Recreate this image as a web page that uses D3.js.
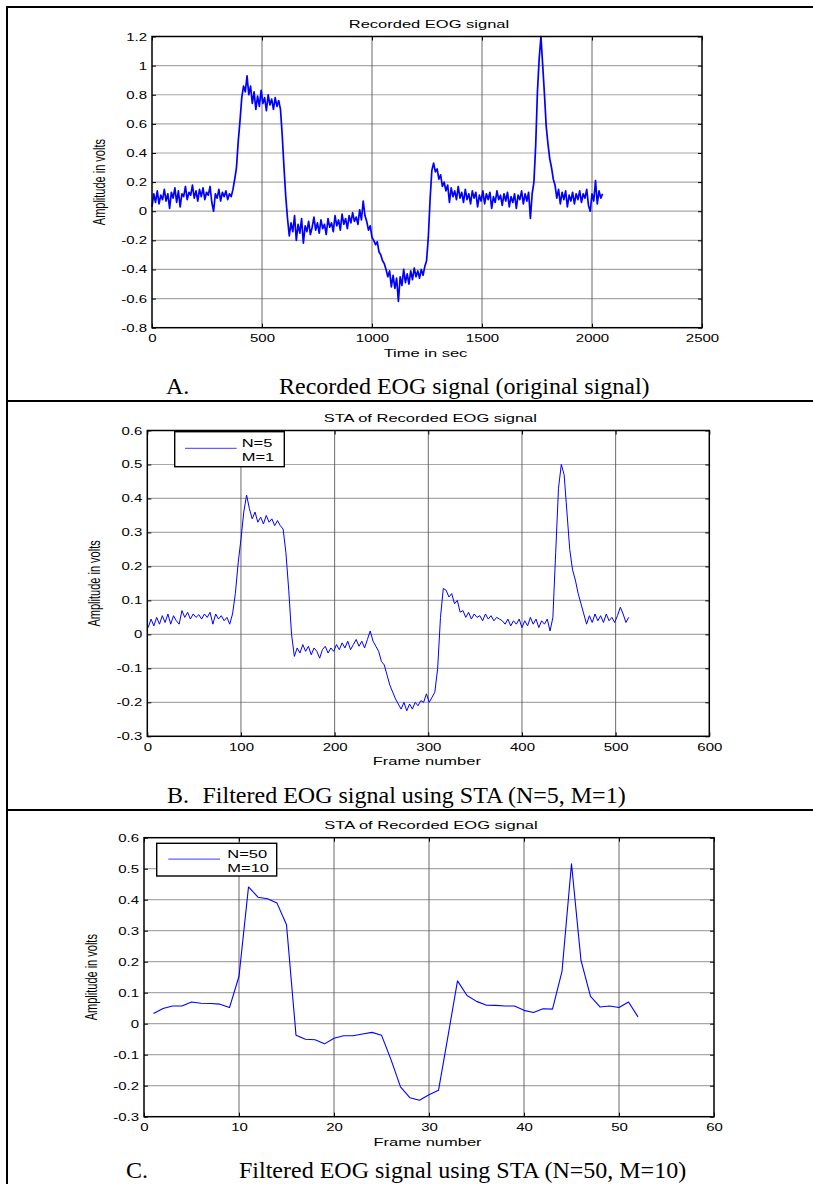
<!DOCTYPE html>
<html lang="en">
<head>
<meta charset="utf-8">
<title>EOG signal and STA filtering</title>
<script src="https://d3js.org/d3.v7.min.js"></script>
<style>
  body { margin: 0; background: #fff; }
  svg text { font-family: "Liberation Sans", Arial, sans-serif; }
  .caption { font-family: "Liberation Serif", "Times New Roman", serif; font-size: 24px; }
</style>
</head>
<body>
<div id="chart"></div>
<script>
// Panel A: recorded EOG signal, one value read every 8 samples
const rawStart = 0, rawStep = 8;
const rawValues = [
  0.03, 0.12, 0.06, 0.14, 0.05, 0.11, 0.08, 0.15, 0.07, 0.12, 0.02, 0.13, 0.09, 0.16, 0.06, 0.14,
  0.03, 0.12, 0.10, 0.17, 0.08, 0.13, 0.11, 0.18, 0.09, 0.14, 0.07, 0.15, 0.10, 0.16, 0.08, 0.13,
  0.11, 0.17, 0.06, 0.00, 0.12, 0.09, 0.15, 0.07, 0.13, 0.10, 0.14, 0.08, 0.12, 0.10, 0.15, 0.22,
  0.30, 0.48, 0.62, 0.78, 0.86, 0.82, 0.93, 0.80, 0.86, 0.74, 0.82, 0.70, 0.79, 0.72, 0.83, 0.74,
  0.78, 0.69, 0.80, 0.73, 0.77, 0.70, 0.78, 0.72, 0.76, 0.70, 0.52, 0.30, 0.10, -0.05, -0.17, -0.08,
  -0.14, -0.03, -0.20, -0.09, -0.15, -0.05, -0.22, -0.10, -0.14, -0.07, -0.16, -0.11, -0.04, -0.13, -0.08, -0.15,
  -0.06, -0.12, -0.09, -0.16, -0.05, -0.11, -0.08, -0.14, -0.03, -0.10, -0.06, -0.13, -0.02, -0.09, -0.05, -0.12,
  -0.03, -0.08, -0.01, -0.07, -0.04, -0.09, 0.01, -0.06, 0.07, -0.03, -0.07, -0.13, -0.10, -0.18, -0.20, -0.23,
  -0.21, -0.28, -0.30, -0.34, -0.36, -0.40, -0.45, -0.41, -0.52, -0.44, -0.53, -0.46, -0.62, -0.45, -0.51, -0.40,
  -0.49, -0.43, -0.50, -0.41, -0.47, -0.39, -0.45, -0.41, -0.46, -0.40, -0.44, -0.38, -0.34, -0.18, 0.08, 0.28,
  0.33, 0.27, 0.29, 0.22, 0.25, 0.17, 0.20, 0.14, 0.18, 0.06, 0.16, 0.10, 0.14, 0.08, 0.17, 0.09,
  0.13, 0.06, 0.15, 0.08, 0.12, 0.05, 0.14, 0.09, 0.13, 0.03, 0.11, 0.07, 0.14, 0.05, 0.12, 0.08,
  0.13, 0.02, 0.10, 0.06, 0.14, 0.08, 0.11, 0.04, 0.12, 0.07, 0.13, 0.03, 0.10, 0.06, 0.12, 0.02,
  0.11, 0.08, 0.14, 0.05, 0.12, 0.07, 0.13, -0.05, 0.12, 0.20, 0.45, 0.82, 1.05, 1.20, 1.00, 0.80,
  0.58, 0.46, 0.36, 0.30, 0.22, 0.18, 0.09, 0.15, 0.05, 0.13, 0.08, 0.14, 0.03, 0.11, 0.07, 0.13,
  0.05, 0.12, 0.08, 0.14, 0.06, 0.12, 0.09, 0.15, 0.04, 0.00, 0.12, 0.07, 0.21, 0.05, 0.14, 0.09,
  0.12
];

// Panel B: STA with N=5, M=1, one value read every 3 frames
const sta5Start = 1, sta5Step = 3;
const sta5Values = [
  0.02, 0.045, 0.025, 0.05, 0.03, 0.055, 0.035, 0.06, 0.03, 0.055, 0.04, 0.03, 0.07, 0.05, 0.065, 0.045,
  0.06, 0.05, 0.058, 0.045, 0.06, 0.05, 0.065, 0.03, 0.06, 0.045, 0.055, 0.04, 0.05, 0.03, 0.06, 0.12,
  0.21, 0.28, 0.36, 0.41, 0.37, 0.34, 0.36, 0.33, 0.345, 0.325, 0.35, 0.33, 0.34, 0.32, 0.335, 0.32,
  0.31, 0.24, 0.13, 0.0, -0.065, -0.04, -0.055, -0.03, -0.05, -0.035, -0.06, -0.04, -0.05, -0.07, -0.045, -0.035,
  -0.055, -0.04, -0.05, -0.03, -0.045, -0.025, -0.04, -0.02, -0.045, -0.03, -0.015, -0.035, -0.02, -0.04, -0.015, 0.01,
  -0.02, -0.035, -0.05, -0.08, -0.09, -0.12, -0.15, -0.17, -0.19, -0.205, -0.22, -0.2, -0.225, -0.205, -0.22, -0.2,
  -0.21, -0.195, -0.2, -0.175, -0.2, -0.185, -0.17, -0.1, 0.05, 0.135, 0.13, 0.11, 0.12, 0.09, 0.1, 0.065,
  0.07, 0.05, 0.065, 0.045, 0.06, 0.05, 0.055, 0.04, 0.06, 0.045, 0.055, 0.04, 0.05, 0.045, 0.04, 0.03,
  0.045, 0.025, 0.04, 0.03, 0.045, 0.02, 0.04, 0.025, 0.05, 0.03, 0.045, 0.02, 0.04, 0.03, 0.045, 0.01,
  0.05, 0.24, 0.43, 0.5, 0.47, 0.36, 0.25, 0.19, 0.16, 0.12, 0.09, 0.06, 0.03, 0.055, 0.035, 0.06,
  0.04, 0.055, 0.035, 0.06, 0.04, 0.05, 0.035, 0.055, 0.08, 0.06, 0.035, 0.05
];

// Panel C: STA with N=50, M=10
const sta50Frames = [
  1, 2, 3, 4, 5, 6, 7, 8, 9, 10, 11, 12, 13, 14, 15, 16, 17, 18, 19, 20, 21, 22, 23, 24, 25, 26,
  27, 28, 29, 30, 31, 32, 33, 34, 35, 36, 37, 38, 39, 40, 41, 42, 43, 44, 45, 46, 47, 48, 49, 50, 51, 52
];
const sta50Values = [
  0.033, 0.049, 0.057, 0.057, 0.07, 0.066, 0.065, 0.063, 0.052, 0.153, 0.441, 0.408, 0.403, 0.389, 0.319, -0.037,
  -0.05, -0.052, -0.065, -0.047, -0.039, -0.039, -0.033, -0.028, -0.037, -0.116, -0.204, -0.239, -0.247, -0.229, -0.215, -0.04,
  0.138, 0.091, 0.072, 0.06, 0.059, 0.057, 0.057, 0.043, 0.036, 0.048, 0.047, 0.169, 0.516, 0.204, 0.088, 0.054,
  0.057, 0.052, 0.07, 0.022
];

const rawXTicks = [0, 500, 1000, 1500, 2000, 2500];
const rawYTicks = [-0.8, -0.6, -0.4, -0.2, 0, 0.2, 0.4, 0.6, 0.8, 1, 1.2];
const sta5XTicks = [0, 100, 200, 300, 400, 500, 600];
const sta50XTicks = [0, 10, 20, 30, 40, 50, 60];
const staYTicks = [-0.3, -0.2, -0.1, 0, 0.1, 0.2, 0.3, 0.4, 0.5, 0.6];

const W = 813, H = 1184;
const SX = 1.5; // the pasted MATLAB figures are stretched sideways
const fmt = d => String(+d.toFixed(1));

const svg = d3.select("#chart").append("svg")
  .attr("width", W).attr("height", H);

// table frame
const frame = svg.append("g").attr("stroke", "#000").attr("stroke-width", 2);
frame.append("line").attr("x1", 7).attr("x2", W).attr("y1", 7).attr("y2", 7);
frame.append("line").attr("x1", 7).attr("x2", 7).attr("y1", 6).attr("y2", H);
frame.append("line").attr("x1", 7).attr("x2", W).attr("y1", 401).attr("y2", 401);
frame.append("line").attr("x1", 7).attr("x2", W).attr("y1", 810).attr("y2", 810);

function stretched(g, txt, x, y, size, anchor) {
  return g.append("text")
    .attr("transform", `translate(${x},${y}) scale(${SX},1)`)
    .attr("text-anchor", anchor || "middle")
    .attr("font-size", size)
    .text(txt);
}

function drawPanel(p) {
  const x = d3.scaleLinear().domain(p.xDomain).range([p.left, p.right]);
  const y = d3.scaleLinear().domain(p.yDomain).range([p.bottom, p.top]);
  const g = svg.append("g");

  // grid
  g.selectAll(".hgrid").data(p.yTicks.slice(1, -1)).join("line")
    .attr("x1", p.left).attr("x2", p.right)
    .attr("y1", d => y(d)).attr("y2", d => y(d))
    .attr("stroke", "#a8a8a8").attr("stroke-width", 1.2);
  g.selectAll(".vgrid").data(p.xTicks.slice(1, -1)).join("line")
    .attr("y1", p.top).attr("y2", p.bottom)
    .attr("x1", d => x(d)).attr("x2", d => x(d))
    .attr("stroke", "#5a5a5a").attr("stroke-width", 0.9);

  // signal
  g.append("path").datum(p.points)
    .attr("fill", "none").attr("stroke", "#0000ff")
    .attr("stroke-width", p.lineWidth).attr("stroke-linejoin", "round")
    .attr("d", d3.line().x(d => x(d[0])).y(d => y(d[1])));

  // axes with inward ticks on all four sides
  const ax = (axis, tx, ty) => g.append("g")
    .attr("transform", `translate(${tx},${ty})`)
    .attr("font-family", "Liberation Sans, Arial, sans-serif")
    .attr("font-size", 11)
    .call(axis)
    .call(a => a.select(".domain").remove());

  ax(d3.axisBottom(x).tickValues(p.xTicks).tickSize(-4).tickFormat(fmt), 0, p.bottom)
    .selectAll("text").attr("y", 14.5).attr("dy", null)
    .attr("transform", `scale(${SX},1)`);
  ax(d3.axisLeft(y).tickValues(p.yTicks).tickSize(-4).tickFormat(fmt), p.left, 0)
    .selectAll("text").attr("x", -5 / SX).attr("dy", "0.35em")
    .attr("transform", `scale(${SX},1)`);
  ax(d3.axisTop(x).tickValues(p.xTicks).tickSize(-4).tickFormat(""), 0, p.top);
  ax(d3.axisRight(y).tickValues(p.yTicks).tickSize(-4).tickFormat(""), p.right, 0);

  g.append("rect")
    .attr("x", p.left).attr("y", p.top)
    .attr("width", p.right - p.left).attr("height", p.bottom - p.top)
    .attr("fill", "none").attr("stroke", "#000").attr("stroke-width", 1.5);

  const cx = (p.left + p.right) / 2;
  stretched(g, p.title, cx + 2, p.top - 9, 11);
  stretched(g, p.xLabel, cx - 1.5, p.bottom + 29, 11);
  g.append("text")
    .attr("transform", `translate(${p.left - 47.5},${(p.top + p.bottom) / 2}) scale(${SX},1) rotate(-90)`)
    .attr("text-anchor", "middle").attr("font-size", 11)
    .text("Amplitude in volts");

  if (p.legend) {
    const L = p.legend;
    const lg = g.append("g").attr("transform", `translate(${p.left + L.dx},${p.top + L.dy})`);
    lg.append("rect").attr("width", L.w).attr("height", L.h)
      .attr("fill", "#fff").attr("stroke", "#000").attr("stroke-width", 1.4);
    lg.append("line").attr("x1", L.lineX1).attr("x2", L.lineX2)
      .attr("y1", L.lineY).attr("y2", L.lineY)
      .attr("stroke", "#3a3aff").attr("stroke-width", 1);
    L.lines.forEach((t, i) => stretched(lg, t, L.textX, L.textY + i * 14, 11, "start"));
  }

  // caption below the figure
  g.append("text").attr("class", "caption").attr("x", p.capLetterX).attr("y", p.capY).text(p.capLetter);
  g.append("text").attr("class", "caption").attr("x", p.capTextX).attr("y", p.capY).text(p.caption);
}

drawPanel({
  left: 152, right: 702, top: 36.5, bottom: 327.7,
  xDomain: [0, 2500], yDomain: [-0.8, 1.2],
  xTicks: rawXTicks, yTicks: rawYTicks,
  points: rawValues.map((v, i) => [rawStart + i * rawStep, v]),
  lineWidth: 1.7,
  title: "Recorded EOG signal", xLabel: "Time in sec",
  capLetter: "A.", capLetterX: 166, capTextX: 279, capY: 394,
  caption: "Recorded EOG signal (original signal)"
});

drawPanel({
  left: 147.3, right: 709.3, top: 430.5, bottom: 736.3,
  xDomain: [0, 600], yDomain: [-0.3, 0.6],
  xTicks: sta5XTicks, yTicks: staYTicks,
  points: sta5Values.map((v, i) => [sta5Start + i * sta5Step, v]),
  lineWidth: 1,
  title: "STA of Recorded EOG signal", xLabel: "Frame number",
  legend: { dx: 27.4, dy: 1.2, w: 109.6, h: 35, lineX1: 10.3, lineX2: 62, lineY: 16.6,
            textX: 67, textY: 15, lines: ["N=5", "M=1"] },
  capLetter: "B.", capLetterX: 167, capTextX: 202.5, capY: 803,
  caption: "Filtered EOG signal using STA (N=5, M=1)"
});

drawPanel({
  left: 144, right: 714, top: 837.7, bottom: 1116.7,
  xDomain: [0, 60], yDomain: [-0.3, 0.6],
  xTicks: sta50XTicks, yTicks: staYTicks,
  points: sta50Frames.map((f, i) => [f, sta50Values[i]]),
  lineWidth: 1.1,
  title: "STA of Recorded EOG signal", xLabel: "Frame number",
  legend: { dx: 12.7, dy: 5.6, w: 120, h: 32.7, lineX1: 11.6, lineX2: 63.3, lineY: 15.8,
            textX: 70.6, textY: 14.2, lines: ["N=50", "M=10"] },
  capLetter: "C.", capLetterX: 126, capTextX: 239, capY: 1178,
  caption: "Filtered EOG signal using STA (N=50, M=10)"
});
</script>
</body>
</html>
